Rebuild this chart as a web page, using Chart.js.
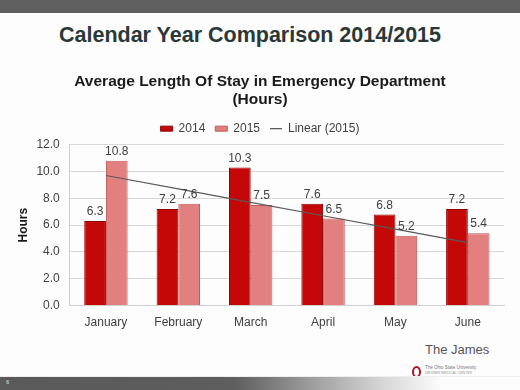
<!DOCTYPE html>
<html>
<head>
<meta charset="utf-8">
<script src="https://cdn.jsdelivr.net/npm/chart.js@4.4.1/dist/chart.umd.min.js"></script>
<style>
    body { margin: 0; width: 520px; height: 390px; overflow: hidden; background: #fdfdfd; font-family: 'Liberation Sans', Arial, sans-serif; position: relative; }
    .top-band { position: absolute; left: 0; top: 0; width: 520px; height: 13px; background: #606060; }
    .bottom-band { position: absolute; left: 0; top: 376px; width: 520px; height: 14px; background: linear-gradient(to right, #595959 0%, #5e5e5e 45%, #d0d0d0 72%, #fdfdfd 85%); border-top: 1px solid #eeeeee; }
    .page-num { position: absolute; left: 6px; top: 379px; font-size: 6px; color: #dddddd; }
    .slide-title { position: absolute; left: 0; width: 500px; top: 23px; text-align: center; font-size: 21.5px; font-weight: bold; color: #2a3838; }
    .chart-box { position: absolute; left: 0; top: 66px; width: 520px; height: 266px; }
    .james { position: absolute; left: 425px; top: 342px; font-size: 13px; color: #555555; }
    .logo-o { position: absolute; left: 412px; top: 366px; width: 5px; height: 8px; border: 2px solid #b01020; border-radius: 50%; }
    .logo-t1 { position: absolute; left: 425px; top: 365px; font-size: 4.5px; color: #777777; white-space: nowrap; }
    .logo-t2 { position: absolute; left: 425px; top: 371px; font-size: 3.5px; color: #999999; white-space: nowrap; }
</style>
</head>
<body>
<div class="top-band"></div>
<div class="slide-title">Calendar Year Comparison 2014/2015</div>
<div class="chart-box"><canvas id="losChart"></canvas></div>
<div class="james">The James</div>
<div class="logo-o"></div>
<div class="logo-t1">The Ohio State University</div>
<div class="logo-t2">WEXNER MEDICAL CENTER</div>
<div class="bottom-band"></div>
<div class="page-num">6</div>

<script>
const months = ['January', 'February', 'March', 'April', 'May', 'June'];
const hours2014 = [6.3, 7.2, 10.3, 7.6, 6.8, 7.2];
const hours2015 = [10.8, 7.6, 7.5, 6.5, 5.2, 5.4];
// trendline for 2015
const linear2015 = [9.7, 8.7, 7.7, 6.7, 5.7, 4.7];
const yTicks = [0, 2, 4, 6, 8, 10, 12];

// value labels above the bars
const barLabels = {
    id: 'barLabels',
    afterDatasetsDraw(chart) {
        const ctx = chart.ctx;
        ctx.save();
        ctx.font = '12px "Liberation Sans", Arial, sans-serif';
        ctx.fillStyle = '#404040';
        ctx.textAlign = 'center';
        ctx.textBaseline = 'bottom';
        [0, 1].forEach(i => {
            const meta = chart.getDatasetMeta(i);
            meta.data.forEach((bar, j) => {
                ctx.fillText(chart.data.datasets[i].data[j].toFixed(1), bar.x, bar.y - 3);
            });
        });
        ctx.restore();
    }
};

new Chart(document.getElementById('losChart'), {
    type: 'bar',
    data: {
        labels: months,
        datasets: [
            {
                label: '2014',
                data: hours2014,
                backgroundColor: '#c40808',
                borderColor: '#8e0000',
                borderWidth: 1,
                pointStyle: 'rect',
                order: 1
            },
            {
                label: '2015',
                data: hours2015,
                backgroundColor: '#e28080',
                borderColor: '#c05a5a',
                borderWidth: 1,
                pointStyle: 'rect',
                order: 1
            },
            {
                type: 'line',
                label: 'Linear (2015)',
                data: linear2015,
                borderColor: '#5a5a5a',
                backgroundColor: '#5a5a5a',
                borderWidth: 1.2,
                pointRadius: 0,
                pointStyle: 'line',
                order: 0
            }
        ]
    },
    options: {
        responsive: true,
        maintainAspectRatio: false,
        animation: false,
        layout: { padding: { left: 16, right: 16, top: 0, bottom: 0 } },
        datasets: {
            bar: { categoryPercentage: 0.6, barPercentage: 1.0 }
        },
        plugins: {
            title: {
                display: true,
                text: ['Average Length Of Stay in Emergency Department', '(Hours)'],
                color: '#1a1a1a',
                font: { size: 15.5, weight: 'bold', family: '"Liberation Sans", Arial, sans-serif', lineHeight: 1.15 },
                padding: { top: 7, bottom: 4 }
            },
            legend: {
                labels: {
                    usePointStyle: true,
                    pointStyleWidth: 12,
                    boxHeight: 5,
                    color: '#404040',
                    padding: 10,
                    font: { size: 12, family: '"Liberation Sans", Arial, sans-serif' },
                    sort: (a, b) => a.datasetIndex - b.datasetIndex
                }
            },
            tooltip: { enabled: false }
        },
        scales: {
            x: {
                grid: { display: false },
                border: { color: '#d0d0d0' },
                ticks: { color: '#404040', padding: 2, font: { size: 12, family: '"Liberation Sans", Arial, sans-serif' } }
            },
            y: {
                min: 0,
                max: 12,
                afterBuildTicks: axis => { axis.ticks = yTicks.map(v => ({ value: v })); },
                grid: { color: '#d9d9d9', drawTicks: false },
                border: { display: true, color: '#d0d0d0' },
                ticks: {
                    color: '#404040',
                    padding: 10,
                    font: { size: 12, family: '"Liberation Sans", Arial, sans-serif' },
                    callback: v => v.toFixed(1)
                },
                title: {
                    display: true,
                    text: 'Hours',
                    color: '#1a1a1a',
                    padding: { top: 0, bottom: -4 },
                    font: { size: 12, weight: 'bold', family: '"Liberation Sans", Arial, sans-serif' }
                }
            }
        }
    },
    plugins: [barLabels]
});
</script>
</body>
</html>
